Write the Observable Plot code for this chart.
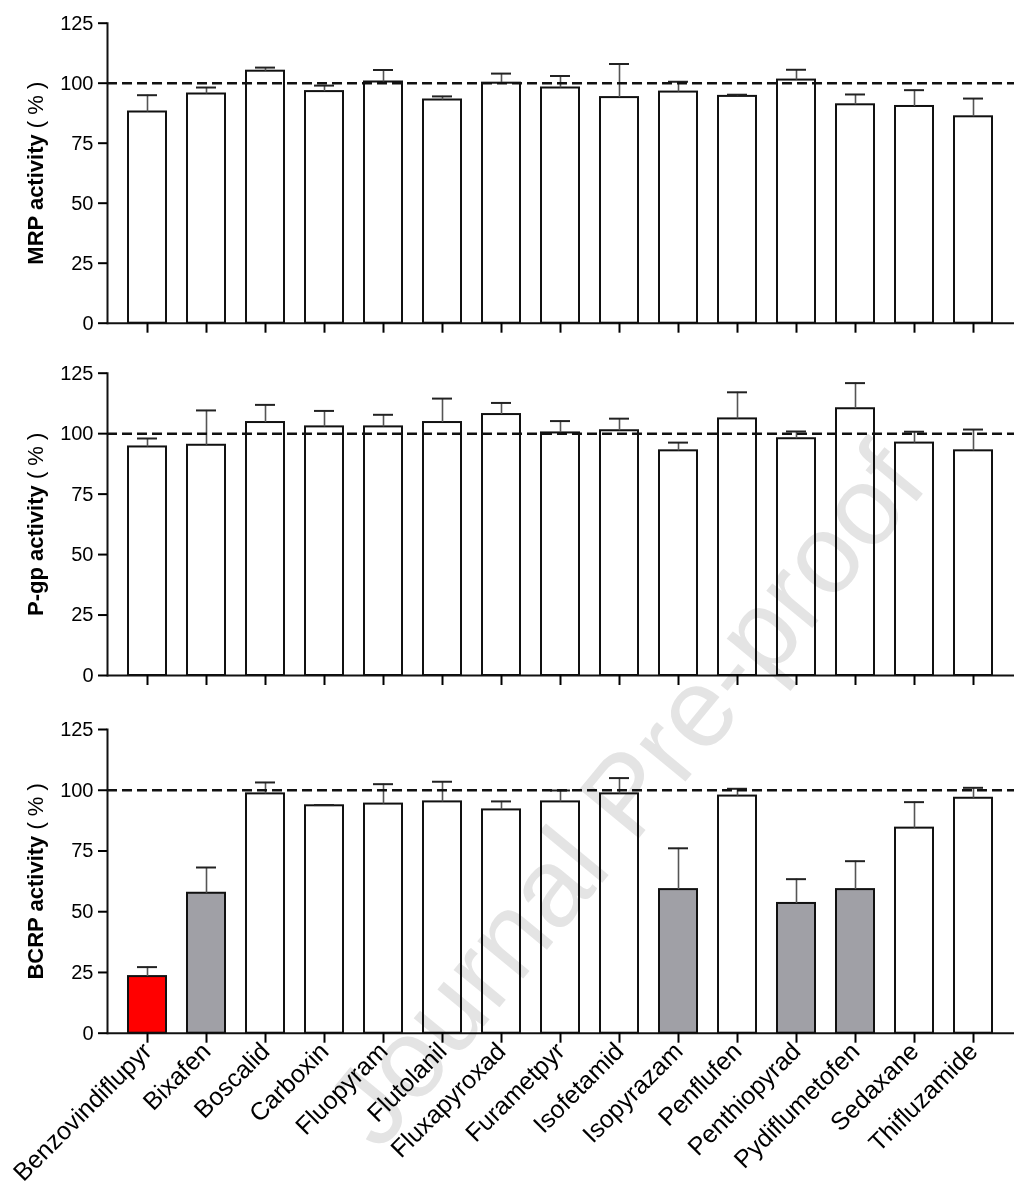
<!DOCTYPE html>
<html>
<head>
<meta charset="utf-8">
<script src="https://cdn.jsdelivr.net/npm/d3@7"></script>
<script src="https://cdn.jsdelivr.net/npm/@observablehq/plot@0.6"></script>
<style>
  html, body { margin: 0; padding: 0; background: white; }
  #wrap { position: relative; width: 1014px; height: 1189px; overflow: hidden; background: white; }
  #wrap svg { display: block; }
  #wm { position: absolute; left: 0; top: 0; mix-blend-mode: multiply; pointer-events: none; }
</style>
</head>
<body>
<div id="wrap"></div>
<script>
const names = ["Benzovindiflupyr","Bixafen","Boscalid","Carboxin","Fluopyram","Flutolanil","Fluxapyroxad","Furametpyr","Isofetamid","Isopyrazam","Penflufen","Penthiopyrad","Pydiflumetofen","Sedaxane","Thifluzamide"];
const yTicks = [0, 25, 50, 75, 100, 125];

const mrp    = [88, 95.5, 105, 96.5, 100.5, 93, 100, 98, 94, 96.3, 94.5, 101.3, 91, 90.3, 86];
const mrpErr = [7, 2.7, 1.5, 2.5, 5, 1.5, 4, 5, 14, 4.3, 0.7, 4.3, 4.3, 6.8, 7.6];

const pgp    = [94.5, 95.2, 104.6, 102.8, 102.8, 104.6, 107.9, 100.3, 101.2, 92.9, 106.1, 97.9, 110.3, 96.1, 92.9];
const pgpErr = [3.5, 14.4, 7.3, 6.6, 5, 9.9, 4.8, 4.9, 5, 3.4, 11, 3, 10.6, 4.7, 8.8];

const bcrp    = [23.3, 57.6, 98.5, 93.6, 94.3, 95.2, 91.9, 95.2, 98.5, 59.1, 97.6, 53.4, 59.1, 84.4, 96.7];
const bcrpErr = [3.9, 10.6, 4.7, 0.3, 8.2, 8.3, 3.5, 4.7, 6.5, 17, 3, 10, 11.7, 10.7, 4.3];
const bcrpGroup = ["strong","moderate","none","none","none","none","none","none","none","moderate","none","moderate","moderate","none","none"];

const groupDomain = ["none", "moderate", "strong"];
const groupColors = ["#ffffff", "#a0a0a6", "#ff0000"];

function panel(values, errs, groups, labelMain, opts) {
  const data = names.map((n, i) => ({name: n, value: values[i], err: errs[i], group: groups ? groups[i] : "none"}));
  const svg = Plot.plot({
    width: 1014,
    height: opts.height,
    marginLeft: 107,
    marginRight: 0,
    marginTop: opts.mt,
    marginBottom: opts.mb,
    style: {fontFamily: "'Liberation Sans', Arial, sans-serif", fontSize: "20px", color: "#000", background: "white", overflow: "visible"},
    x: {domain: names, paddingInner: 0.35, paddingOuter: 0.32, axis: null},
    y: {domain: [0, 125], axis: null},
    color: {domain: groupDomain, range: groupColors},
    marks: [
      Plot.barY(data, {x: "name", y: "value", fill: "group", stroke: "#111", strokeWidth: 2}),
      Plot.ruleX(data, {x: "name", y1: "value", y2: d => d.value + d.err, stroke: "#555", strokeWidth: 1.6}),
      Plot.tickY(data, {x: "name", y: d => d.value + d.err, stroke: "#222", strokeWidth: 2, insetLeft: 9, insetRight: 9}),
      Plot.ruleY([100], {stroke: "#111", strokeWidth: 2.5, strokeDasharray: "10,5"}),
      Plot.frame({anchor: "left", stroke: "#111", strokeWidth: 2}),
      Plot.ruleY([0], {stroke: "#111", strokeWidth: 2}),
      Plot.axisY({ticks: yTicks, tickSize: 9, tickPadding: 5, strokeWidth: 2, fontSize: 20,
                  label: labelMain + " (%)", labelAnchor: "center", labelOffset: 80}),
      Plot.axisX({tickSize: 10, strokeWidth: 2, tickPadding: 4, fontSize: 25,
                  tickFormat: opts.labels ? (d => d) : () => "",
                  tickRotate: opts.labels ? -45 : 0, label: null})
    ]
  });
  // style the y-axis label: bold name, normal-weight percent
  svg.querySelectorAll('[aria-label="y-axis label"] text').forEach(t => {
    t.textContent = "";
    const ns = "http://www.w3.org/2000/svg";
    const a = document.createElementNS(ns, "tspan");
    a.setAttribute("font-weight", "bold");
    a.textContent = labelMain + " ";
    const b = document.createElementNS(ns, "tspan");
    b.setAttribute("font-weight", "normal");
    b.textContent = "( % )";
    t.appendChild(a); t.appendChild(b);
    t.setAttribute("font-size", "22");
  });
  return svg;
}

const wrap = document.getElementById("wrap");
wrap.appendChild(panel(mrp, mrpErr, null, "MRP activity", {height: 345, mt: 22.7, mb: 22.3, labels: false}));
wrap.appendChild(panel(pgp, pgpErr, null, "P-gp activity", {height: 355, mt: 27.7, mb: 25, labels: false}));
wrap.appendChild(panel(bcrp, bcrpErr, bcrpGroup, "BCRP activity", {height: 489, mt: 29, mb: 156.3, labels: true}));

// journal watermark overlay
const wm = d3.select(wrap).append("svg").attr("id", "wm").attr("width", 1014).attr("height", 1189);
wm.append("text")
  .attr("transform", "translate(632,800) rotate(-50.5)")
  .attr("text-anchor", "middle")
  .attr("dominant-baseline", "middle")
  .attr("font-family", "'Liberation Sans', Arial, sans-serif")
  .attr("font-size", 112)
  .attr("fill", "#e4e4e4")
  .text("Journal Pre-proof");
</script>
</body>
</html>
